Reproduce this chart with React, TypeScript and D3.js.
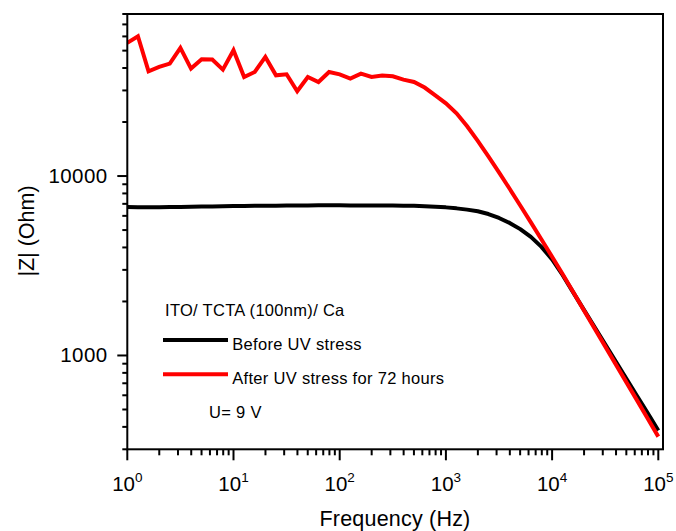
import React from "react";
import * as d3 from "d3";

const frequencies: number[] = [
  1, 1.259, 1.585, 1.995, 2.512, 3.162, 3.981, 5.012, 6.31, 7.943,
  10, 12.59, 15.85, 19.95, 25.12, 31.62, 39.81, 50.12, 63.1, 79.43,
  100, 125.9, 158.5, 199.5, 251.2, 316.2, 398.1, 501.2, 631, 794.3,
  1000, 1259, 1585, 1995, 2512, 3162, 3981, 5012, 6310, 7943,
  10000, 12590, 15850, 19950, 25120, 31620, 39810, 50120, 63100, 79430,
  100000,
];

const beforeUV: number[] = [
  6720, 6710, 6700, 6710, 6720, 6730, 6740, 6760, 6770, 6780,
  6800, 6810, 6820, 6830, 6840, 6850, 6860, 6860, 6870, 6870,
  6870, 6860, 6860, 6850, 6850, 6845, 6840, 6830, 6780, 6735,
  6690, 6605, 6500, 6360, 6140, 5840, 5480, 5060, 4580, 4030,
  3430, 2800, 2240, 1796, 1440, 1155, 926, 742, 595, 477,
  382,
];

const afterUV: number[] = [
  55200, 60100, 38370, 40550, 42360, 51750, 39720, 44770, 44570, 39190,
  50230, 35650, 38020, 46100, 36440, 36900, 29680, 35650, 33430, 38020,
  36900, 34920, 37240, 35650, 36310, 35970, 34480, 33430, 31120, 28190,
  25440, 22370, 18930, 15720, 12880, 10490, 8494, 6856, 5516, 4430,
  3548, 2833, 2248, 1784, 1416, 1124, 892, 708, 562, 446,
  353,
];

const xMajorExps: number[] = [0, 1, 2, 3, 4, 5];
const yMajorTicks: number[] = [1000, 10000];
const yMinorTicks: number[] = [
  300, 400, 500, 600, 700, 800, 900,
  2000, 3000, 4000, 5000, 6000, 7000, 8000, 9000,
  20000, 30000, 40000, 50000, 60000, 70000, 80000,
];

const legendTitle = "ITO/ TCTA (100nm)/ Ca";
const seriesNames = ["Before UV stress", "After UV stress for 72 hours"];
const seriesColors = ["#000000", "#ff0000"];
const noteText = "U= 9 V";
const xTitle = "Frequency (Hz)";
const yTitle = "|Z| (Ohm)";

const FONT = "'Liberation Sans', Arial, sans-serif";

export default function App() {
  const W = 676;
  const H = 531;
  const left = 127.3;
  const xEnd = 658.3;
  const right = 663;
  const top = 14;
  const bottom = 449.3;

  const x = d3.scaleLog().domain([1, 100000]).range([left, xEnd]);
  const y = d3.scaleLog().domain([300, 80000]).range([bottom, top]);

  const line = d3
    .line<[number, number]>()
    .x((d) => x(d[0]))
    .y((d) => y(d[1]))
    .curve(d3.curveLinear);

  const beforePts: [number, number][] = frequencies.map((f, i) => [f, beforeUV[i]]);
  const afterPts: [number, number][] = frequencies.map((f, i) => [f, afterUV[i]]);

  const xMinor: number[] = [];
  for (let e = 0; e < 5; e++) {
    for (let m = 2; m <= 9; m++) xMinor.push(m * Math.pow(10, e));
  }

  const legendFont = 16.5;
  const legendSpacing = 0.3;

  return (
    <svg
      width={W}
      height={H}
      style={{ position: "absolute", left: 0, top: 0, background: "#fff" }}
      fontFamily={FONT}
    >
      <rect x={0} y={0} width={W} height={H} fill="#fff" />
      <defs>
        <clipPath id="plotClip">
          <rect x={left} y={top} width={right - left} height={bottom - top} />
        </clipPath>
      </defs>

      {/* data lines */}
      <g clipPath="url(#plotClip)">
        <path d={line(beforePts) || ""} fill="none" stroke={seriesColors[0]} strokeWidth={4} strokeLinejoin="round" />
        <path d={line(afterPts) || ""} fill="none" stroke={seriesColors[1]} strokeWidth={4} strokeLinejoin="miter" />
      </g>

      {/* frame */}
      <rect x={left} y={top} width={right - left} height={bottom - top} fill="none" stroke="#000" strokeWidth={2} />

      {/* x ticks */}
      {xMajorExps.map((e) => {
        const xv = x(Math.pow(10, e));
        return (
          <g key={"xM" + e}>
            <line x1={xv} x2={xv} y1={bottom} y2={bottom + 11} stroke="#000" strokeWidth={2} />
            <text x={xv} y={490.7} textAnchor="middle" fontSize={20.5} fill="#000">
              <tspan>10</tspan>
              <tspan fontSize={13.5} dy={-9}>{String(e)}</tspan>
            </text>
          </g>
        );
      })}
      {xMinor.map((v, i) => (
        <line key={"xm" + i} x1={x(v)} x2={x(v)} y1={bottom} y2={bottom + 6} stroke="#000" strokeWidth={2} />
      ))}

      {/* y ticks */}
      {yMajorTicks.map((v) => (
        <g key={"yM" + v}>
          <line x1={left - 10} x2={left} y1={y(v)} y2={y(v)} stroke="#000" strokeWidth={2} />
          <text x={107.5} y={y(v) + 7} textAnchor="end" fontSize={20.5} letterSpacing={0.4} fill="#000">
            {String(v)}
          </text>
        </g>
      ))}
      {yMinorTicks.map((v) => (
        <line key={"ym" + v} x1={left - 5} x2={left} y1={y(v)} y2={y(v)} stroke="#000" strokeWidth={2} />
      ))}

      {/* axis titles */}
      <text x={395} y={526} textAnchor="middle" fontSize={21.5} letterSpacing={0.2} fill="#000">
        {xTitle}
      </text>
      <text
        transform={`translate(33.5, 231) rotate(-90)`}
        textAnchor="middle"
        fontSize={21.5}
        fill="#000"
      >
        {yTitle}
      </text>

      {/* legend */}
      <text x={165} y={316} fontSize={legendFont} letterSpacing={legendSpacing} fill="#000">
        {legendTitle}
      </text>
      <line x1={163} x2={228} y1={340} y2={340} stroke={seriesColors[0]} strokeWidth={4} />
      <text x={232.3} y={350} fontSize={legendFont} letterSpacing={legendSpacing} fill="#000">
        {seriesNames[0]}
      </text>
      <line x1={163} x2={228} y1={374.3} y2={374.3} stroke={seriesColors[1]} strokeWidth={4} />
      <text x={232.3} y={384.3} fontSize={legendFont} letterSpacing={legendSpacing} fill="#000">
        {seriesNames[1]}
      </text>
      <text x={209} y={417.7} fontSize={legendFont} letterSpacing={legendSpacing} fill="#000">
        {noteText}
      </text>
    </svg>
  );
}
